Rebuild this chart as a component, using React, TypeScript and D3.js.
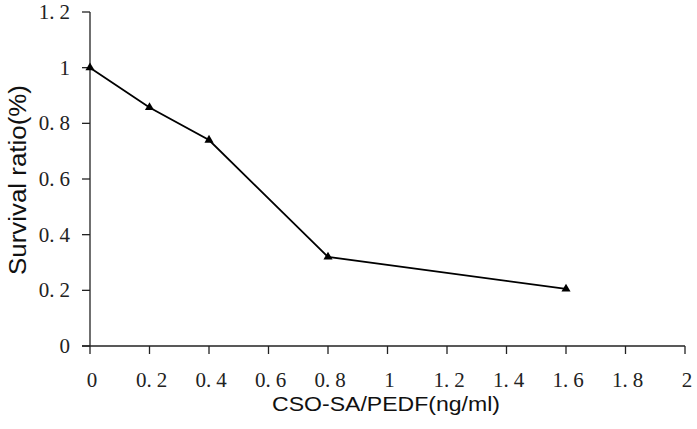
import React from "react";
import * as d3 from "d3";

const xValues = [0, 0.2, 0.4, 0.8, 1.6];
const yValues = [1.0, 0.857, 0.74, 0.32, 0.205];
const xTicks = [0, 0.2, 0.4, 0.6, 0.8, 1, 1.2, 1.4, 1.6, 1.8, 2];
const yTicks = [0, 0.2, 0.4, 0.6, 0.8, 1, 1.2];
const xTitle = "CSO-SA/PEDF(ng/ml)";
const yTitle = "Survival ratio(%)";

const W = 697;
const H = 429;
const left = 90;
const right = 685;
const top = 12;
const bottom = 346;
const serif = "'Liberation Serif', 'DejaVu Serif', serif";
const sans = "'Liberation Sans', Arial, sans-serif";

function TickLabel({ v, x, y, anchor }: { v: number; x: number; y: number; anchor: string }) {
  const s = String(v);
  const parts = s.split(".");
  return (
    <text x={x} y={y} textAnchor={anchor} style={{ fontFamily: serif }} fontSize={21} fill="#222">
      {parts.length > 1 ? (
        <>
          {parts[0] + "."}
          <tspan dx={5}>{parts[1]}</tspan>
        </>
      ) : (
        s
      )}
    </text>
  );
}

export default function App() {
  const x = d3.scaleLinear().domain([0, 2]).range([left, right]);
  const y = d3.scaleLinear().domain([0, 1.2]).range([bottom, top]);
  const line = d3
    .line<number>()
    .x((_, i) => x(xValues[i]))
    .y((d) => y(d));
  const tri = d3.symbol().type(d3.symbolTriangle).size(36)();

  return (
    <svg width={W} height={H} style={{ position: "absolute", left: 0, top: 0, background: "#fff" }}>
      <rect width={W} height={H} fill="#fff" />
      <line x1={left} x2={left} y1={top} y2={bottom} stroke="#222" strokeWidth={1.3} />
      <line x1={left - 8} x2={right} y1={bottom} y2={bottom} stroke="#222" strokeWidth={1.3} />
      {yTicks.map((t) => (
        <g key={"y" + t}>
          <line x1={left - 8} x2={left} y1={y(t)} y2={y(t)} stroke="#222" strokeWidth={1.3} />
          <TickLabel v={t} x={left - 20} y={y(t) + 7} anchor="end" />
        </g>
      ))}
      {xTicks.map((t) => (
        <g key={"x" + t}>
          <line x1={x(t)} x2={x(t)} y1={bottom} y2={bottom + 8} stroke="#222" strokeWidth={1.3} />
          <TickLabel v={t} x={x(t) + 2} y={387} anchor="middle" />
        </g>
      ))}
      <path d={line(yValues) || ""} fill="none" stroke="#000" strokeWidth={1.8} />
      {yValues.map((v, i) => (
        <path key={i} d={tri || ""} transform={`translate(${x(xValues[i])},${y(v)})`} fill="#000" />
      ))}
      <text
        x={386}
        y={411}
        textAnchor="middle"
        style={{ fontFamily: sans }}
        fontSize={21}
        textLength={228}
        lengthAdjust="spacingAndGlyphs"
        fill="#111"
      >
        {xTitle}
      </text>
      <text
        transform={`translate(26,180) rotate(-90)`}
        textAnchor="middle"
        style={{ fontFamily: sans }}
        fontSize={23}
        textLength={190}
        lengthAdjust="spacingAndGlyphs"
        fill="#111"
      >
        {yTitle}
      </text>
    </svg>
  );
}
